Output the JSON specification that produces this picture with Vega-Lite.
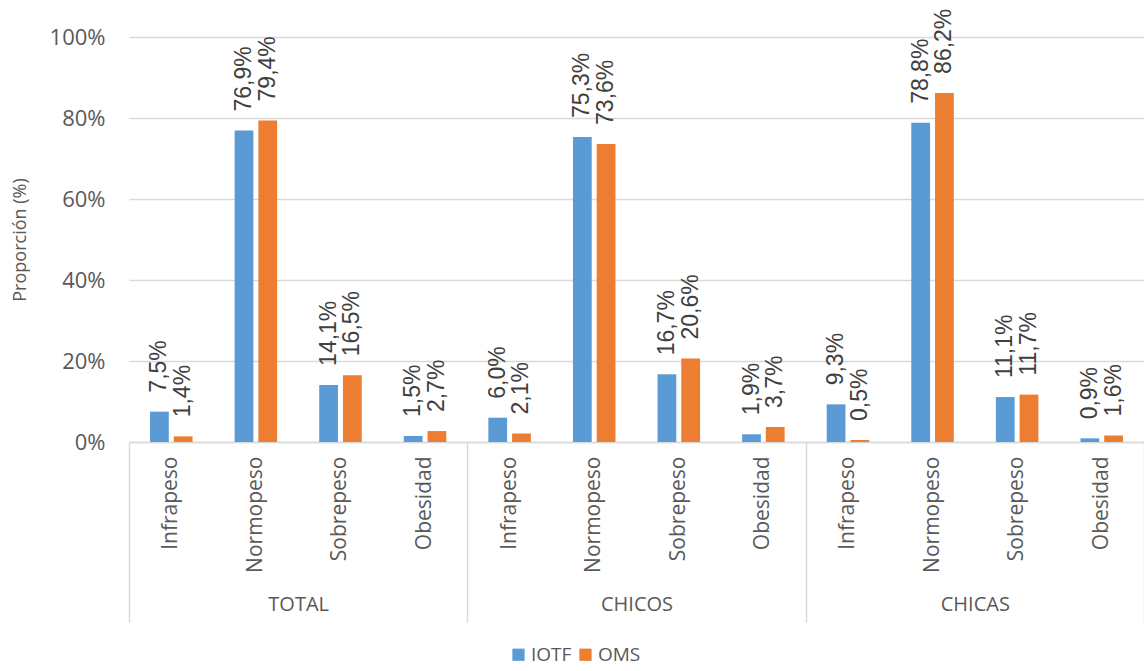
{
  "$schema": "https://vega.github.io/schema/vega-lite/v6.json",
  "autosize": "none",
  "padding": {"left": 129, "top": 37, "right": 0, "bottom": 229},
  "width": 1015,
  "height": 405,
  "data": {
    "values": [
      {"grupo": "TOTAL", "categoria": "Infrapeso", "clave": "TOTAL|Infrapeso", "serie": "IOTF", "valor": 0.075},
      {"grupo": "TOTAL", "categoria": "Infrapeso", "clave": "TOTAL|Infrapeso", "serie": "OMS", "valor": 0.014},
      {"grupo": "TOTAL", "categoria": "Normopeso", "clave": "TOTAL|Normopeso", "serie": "IOTF", "valor": 0.769},
      {"grupo": "TOTAL", "categoria": "Normopeso", "clave": "TOTAL|Normopeso", "serie": "OMS", "valor": 0.794},
      {"grupo": "TOTAL", "categoria": "Sobrepeso", "clave": "TOTAL|Sobrepeso", "serie": "IOTF", "valor": 0.141},
      {"grupo": "TOTAL", "categoria": "Sobrepeso", "clave": "TOTAL|Sobrepeso", "serie": "OMS", "valor": 0.165},
      {"grupo": "TOTAL", "categoria": "Obesidad", "clave": "TOTAL|Obesidad", "serie": "IOTF", "valor": 0.015},
      {"grupo": "TOTAL", "categoria": "Obesidad", "clave": "TOTAL|Obesidad", "serie": "OMS", "valor": 0.027},
      {"grupo": "CHICOS", "categoria": "Infrapeso", "clave": "CHICOS|Infrapeso", "serie": "IOTF", "valor": 0.060},
      {"grupo": "CHICOS", "categoria": "Infrapeso", "clave": "CHICOS|Infrapeso", "serie": "OMS", "valor": 0.021},
      {"grupo": "CHICOS", "categoria": "Normopeso", "clave": "CHICOS|Normopeso", "serie": "IOTF", "valor": 0.753},
      {"grupo": "CHICOS", "categoria": "Normopeso", "clave": "CHICOS|Normopeso", "serie": "OMS", "valor": 0.736},
      {"grupo": "CHICOS", "categoria": "Sobrepeso", "clave": "CHICOS|Sobrepeso", "serie": "IOTF", "valor": 0.167},
      {"grupo": "CHICOS", "categoria": "Sobrepeso", "clave": "CHICOS|Sobrepeso", "serie": "OMS", "valor": 0.206},
      {"grupo": "CHICOS", "categoria": "Obesidad", "clave": "CHICOS|Obesidad", "serie": "IOTF", "valor": 0.019},
      {"grupo": "CHICOS", "categoria": "Obesidad", "clave": "CHICOS|Obesidad", "serie": "OMS", "valor": 0.037},
      {"grupo": "CHICAS", "categoria": "Infrapeso", "clave": "CHICAS|Infrapeso", "serie": "IOTF", "valor": 0.093},
      {"grupo": "CHICAS", "categoria": "Infrapeso", "clave": "CHICAS|Infrapeso", "serie": "OMS", "valor": 0.005},
      {"grupo": "CHICAS", "categoria": "Normopeso", "clave": "CHICAS|Normopeso", "serie": "IOTF", "valor": 0.788},
      {"grupo": "CHICAS", "categoria": "Normopeso", "clave": "CHICAS|Normopeso", "serie": "OMS", "valor": 0.862},
      {"grupo": "CHICAS", "categoria": "Sobrepeso", "clave": "CHICAS|Sobrepeso", "serie": "IOTF", "valor": 0.111},
      {"grupo": "CHICAS", "categoria": "Sobrepeso", "clave": "CHICAS|Sobrepeso", "serie": "OMS", "valor": 0.117},
      {"grupo": "CHICAS", "categoria": "Obesidad", "clave": "CHICAS|Obesidad", "serie": "IOTF", "valor": 0.009},
      {"grupo": "CHICAS", "categoria": "Obesidad", "clave": "CHICAS|Obesidad", "serie": "OMS", "valor": 0.016}
    ]
  },
  "layer": [
    {
      "encoding": {
        "x": {
          "field": "clave", "type": "nominal", "sort": null,
          "scale": {"type": "band", "paddingInner": 0, "paddingOuter": 0},
          "axis": {
            "title": null, "labelAngle": -90, "labelExpr": "split(datum.label, '|')[1]",
            "ticks": false, "domainColor": "#D9D9D9", "domainWidth": 1.5,
            "labelFontSize": 21, "labelPadding": 14, "labelColor": "#595959"
          }
        },
        "xOffset": {
          "field": "serie", "type": "nominal",
          "scale": {"domain": ["IOTF", "OMS"], "paddingInner": 0.21, "paddingOuter": 0.886}
        },
        "y": {
          "field": "valor", "type": "quantitative",
          "scale": {"domain": [0, 1], "nice": false},
          "axis": {
            "values": [0, 0.2, 0.4, 0.6, 0.8, 1], "format": ".0%",
            "gridColor": "#D9D9D9", "gridWidth": 1.5, "domain": false, "ticks": false,
            "labelFontSize": 22, "labelPadding": 24, "labelColor": "#595959",
            "title": "Proporción (%)", "titleFontSize": 18, "titleFontWeight": "normal",
            "titleColor": "#595959", "titlePadding": 20
          }
        }
      },
      "layer": [
        {
          "mark": {"type": "bar"},
          "encoding": {
            "color": {
              "field": "serie", "type": "nominal",
              "scale": {"domain": ["IOTF", "OMS"], "range": ["#5B9BD5", "#ED7D31"]},
              "legend": {
                "orient": "none", "legendX": 380, "legendY": 608, "direction": "horizontal",
                "title": null, "symbolType": "square", "symbolSize": 150, "symbolStrokeWidth": 0,
                "labelFontSize": 19, "labelColor": "#595959", "columnPadding": 4, "labelOffset": 3
              }
            }
          }
        },
        {
          "mark": {"type": "text", "angle": 270, "align": "left", "baseline": "middle", "dx": 19, "fontSize": 23, "font": "Liberation Sans", "color": "#404040"},
          "encoding": {
            "text": {"field": "valor", "type": "quantitative", "format": ".1%"}
          }
        }
      ]
    },
    {
      "mark": {"type": "rule", "opacity": 0},
      "encoding": {
        "x": {
          "field": "grupo", "type": "nominal", "sort": ["TOTAL", "CHICOS", "CHICAS"],
          "scale": {"type": "band", "paddingInner": 0, "paddingOuter": 0},
          "axis": {
            "orient": "bottom", "title": null, "labelAngle": 0, "tickBand": "extent",
            "tickSize": 180, "tickColor": "#D9D9D9", "tickWidth": 1.5, "domain": false,
            "labelPadding": -28, "labelFontSize": 20, "labelColor": "#595959", "grid": false,
            "labelBaseline": "top"
          }
        }
      }
    }
  ],
  "resolve": {"scale": {"x": "independent"}, "axis": {"x": "independent"}},
  "config": {
    "font": "Open Sans",
    "view": {"stroke": null},
    "locale": {"number": {"decimal": ",", "thousands": ".", "grouping": [3], "currency": ["", " €"]}}
  }
}
